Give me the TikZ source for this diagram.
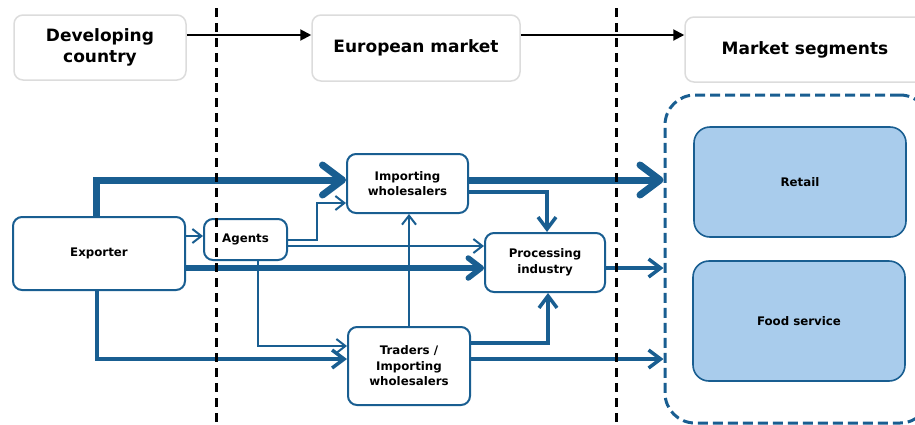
\documentclass[tikz,border=0pt]{standalone}
\usepackage{fontspec}
\setmainfont{DejaVu Sans}
\usetikzlibrary{arrows.meta}
\definecolor{flowblue}{RGB}{25,94,145}
\definecolor{segfill}{RGB}{169,204,236}
\definecolor{headgray}{RGB}{220,220,220}
\tikzset{
  head/.style={draw=headgray, line width=1.5pt, rounded corners=9pt, fill=white,
    align=center, inner sep=0pt, font=\fontsize{17}{21}\selectfont\bfseries},
  actor/.style={draw=flowblue, line width=2pt, rounded corners=9pt, fill=white,
    align=center, inner sep=0pt, font=\fontsize{11.8}{15.5}\selectfont\bfseries},
  segment/.style={actor, fill=segfill, line width=1.6pt, rounded corners=16pt},
  segarea/.style={draw=flowblue, line width=3pt, dash pattern=on 10pt off 5pt,
    rounded corners=30pt},
  divider/.style={draw=black, line width=3pt, dash pattern=on 9pt off 6pt},
  topflow/.style={draw=black, line width=2pt, -{Triangle[length=11pt,width=11pt]}},
  bigflow/.style={draw=flowblue, line width=7pt, -{Straight Barb[length=20pt,width=30pt,round]}},
  wideflow/.style={draw=flowblue, line width=5.5pt, -{Straight Barb[length=13pt,width=20pt,round]}},
  midflow/.style={draw=flowblue, line width=3.5pt, -{Straight Barb[length=12pt,width=18pt]}},
  thinflow/.style={draw=flowblue, line width=2pt, -{Straight Barb[length=9pt,width=14pt]}}
}
\begin{document}
\begin{tikzpicture}[x=1pt,y=-1pt]
  \useasboundingbox (0,0) rectangle (915,424);
  % headers
  \node[head, minimum width=172pt, minimum height=65pt] (dev) at (100,47.5) {Developing\\country};
  \node[head, minimum width=208pt, minimum height=66pt] (eur) at (416,48) {European market};
  \node[head, minimum width=240pt, minimum height=65pt] (seg) at (805,49.5) {Market segments};
  \draw[topflow] ([yshift=12.5pt]dev.east) -- ([yshift=12.5pt]dev.east -| eur.west);
  \draw[topflow] ([yshift=13pt]eur.east) -- ([yshift=13pt]eur.east -| seg.west);

  % market segments
  \node[segarea, minimum width=265pt, minimum height=328pt] (segbox) at (797.5,259) {};
  \node[segment, minimum width=212pt, minimum height=110pt] (retail) at (800,182) {Retail};
  \node[segment, minimum width=212pt, minimum height=120pt] (food) at (799,321) {Food service};

  % chain
  \node[actor, minimum width=172pt, minimum height=73pt] (exporter) at (99,253.5) {Exporter};
  \node[actor, minimum width=83pt, minimum height=41pt] (agents) at (245.5,239.5) {Agents};
  \node[actor, minimum width=121pt, minimum height=59pt] (impw) at (407.5,183.5) {Importing\\wholesalers};
  \node[actor, minimum width=120pt, minimum height=59pt] (proc) at (545,262.5) {Processing\\industry};
  \node[actor, minimum width=122pt, minimum height=78pt] (traders) at (409,366) {Traders /\\Importing\\wholesalers};

  \begin{scope}
    \draw[bigflow] ([xshift=-3pt]exporter.north) |- ([yshift=3.5pt]impw.west);
    \draw[bigflow] ([yshift=3.5pt]impw.east) -- ([yshift=3.5pt]impw.east -| segbox.west);
    \draw[wideflow] ([yshift=-5.5pt]proc.west -| exporter.east) -- ([yshift=-5.5pt]proc.west);
    \draw[midflow] ([yshift=-5.5pt]proc.east) -- ([yshift=-5.5pt]proc.east -| segbox.west);
    \draw[midflow] ([xshift=-2pt]exporter.south) |- ([yshift=7pt]traders.west);
    \draw[midflow] ([yshift=-8.5pt]impw.east) -| ([xshift=2pt]proc.north);
    \draw[midflow] ([yshift=23pt]traders.east) -| ([xshift=3pt]proc.south);
    \draw[midflow] ([yshift=7pt]traders.east) -- ([yshift=7pt]traders.east -| segbox.west);
    \draw[thinflow] ([yshift=3.5pt]agents.west -| exporter.east) -- ([yshift=3.5pt]agents.west);
    \draw[thinflow] (agents.east) -- (317,239.5) |- ([yshift=-19.5pt]impw.west);
    \draw[thinflow] ([yshift=-6.5pt]agents.east) -- ([yshift=16.5pt]proc.west);
    \draw[thinflow] ([xshift=12.5pt]agents.south) |- ([yshift=20pt]traders.west);
    \draw[thinflow] (traders.north) -- (traders.north |- impw.south);
  \end{scope}

  % borders
  \draw[divider] (216,8) -- (216,424);
  \draw[divider] (616,8) -- (616,424);
\end{tikzpicture}
\end{document}
